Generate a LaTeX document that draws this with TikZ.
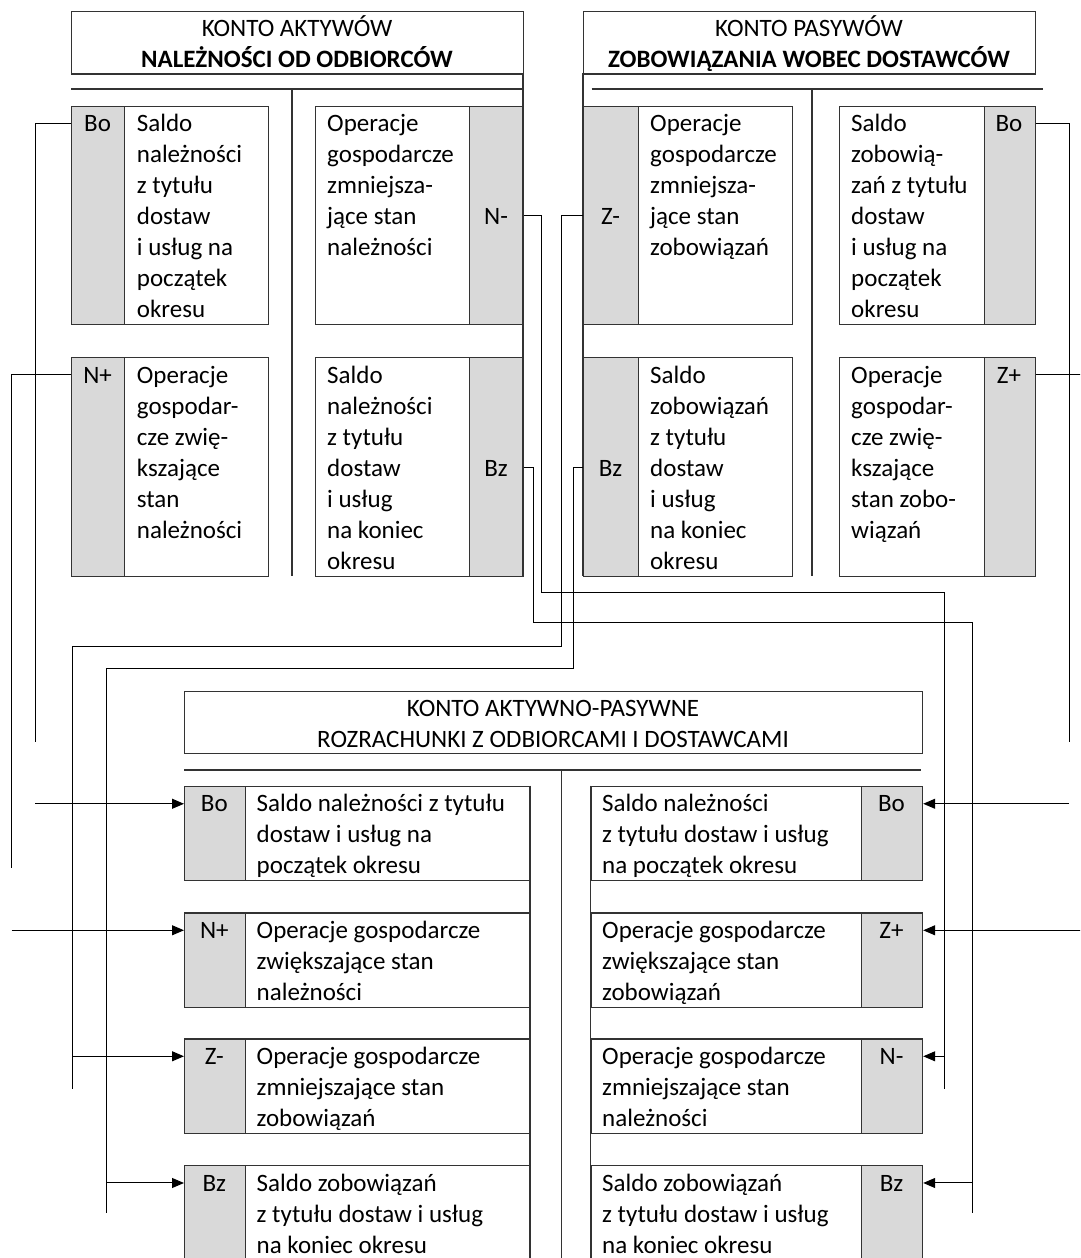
\documentclass[tikz,border=0pt]{standalone}
\usepackage{fontspec}
\setmainfont{Carlito}
\usetikzlibrary{arrows.meta}

\begin{document}
\begin{tikzpicture}[x=1pt,y=-1pt,
  font=\fontsize{25}{31}\selectfont,
  frame/.style={draw=black!80,line width=1.2pt,rectangle,inner sep=0pt,anchor=north west},
  gcol/.style={frame,fill=black!15},
  body/.style={inner sep=0pt,anchor=base west},
  lbl/.style={inner sep=0pt,anchor=base},
  ttl/.style={inner sep=0pt,anchor=base},
  rule/.style={draw=black!80,line width=1.2pt},
  wire/.style={draw=black,line width=1pt},
  arr/.style={wire,-{Triangle[length=12pt,width=10pt]}}]

\useasboundingbox (0,0) rectangle (1080,1258);
\clip (0,0) rectangle (1080,1258);

% ---------- asset account: receivables ----------
\node[frame,minimum width=452pt,minimum height=62.6pt] (ttlA) at (71,10.7) {};
\node[ttl] (ttlAt) at (297,36) {\begin{tabular}[t]{@{}c@{}}KONTO AKTYWÓW\\\textbf{NALEŻNOŚCI OD ODBIORCÓW}\end{tabular}};
\draw[rule] (71,89) -- (523,89);
\draw[rule] (292,89) -- (292,576);

\node[gcol,minimum width=53pt,minimum height=218pt] (A1g) at (71,106) {};
\node[frame,minimum width=197pt,minimum height=218pt] (A1) at (71,106) {};
\node[lbl] (A1l) at (97.6,131) {Bo};
\node[body] (A1t) at (136.7,131) {\begin{tabular}[t]{@{}l@{}}Saldo\\należności\\z tytułu\\dostaw\\i usług na\\początek\\okresu\end{tabular}};

\node[frame,minimum width=208pt,minimum height=218pt] (A2) at (315,106) {};
\node[gcol,minimum width=54pt,minimum height=218pt] (A2g) at (469,106) {};
\node[lbl] (A2l) at (496,224) {N-};
\node[body] (A2t) at (327,131) {\begin{tabular}[t]{@{}l@{}}Operacje\\gospodarcze\\zmniejsza-\\jące stan\\należności\end{tabular}};

\node[gcol,minimum width=53pt,minimum height=219pt] (A3g) at (71,357) {};
\node[frame,minimum width=197pt,minimum height=219pt] (A3) at (71,357) {};
\node[lbl] (A3l) at (97.6,383) {N+};
\node[body] (A3t) at (136.7,383) {\begin{tabular}[t]{@{}l@{}}Operacje\\gospodar-\\cze zwię-\\kszające\\stan\\należności\end{tabular}};

\node[frame,minimum width=208pt,minimum height=219pt] (A4) at (315,357) {};
\node[gcol,minimum width=54pt,minimum height=219pt] (A4g) at (469,357) {};
\node[lbl] (A4l) at (496,476) {Bz};
\node[body] (A4t) at (327,383) {\begin{tabular}[t]{@{}l@{}}Saldo\\należności\\z tytułu\\dostaw\\i usług\\na koniec\\okresu\end{tabular}};

\draw[rule] (523,73.3) -- (523,576);

% ---------- liability account: payables ----------
\node[frame,minimum width=452pt,minimum height=62.6pt] (ttlP) at (583,10.7) {};
\node[ttl] (ttlPt) at (809,36) {\begin{tabular}[t]{@{}c@{}}KONTO PASYWÓW\\\textbf{ZOBOWIĄZANIA WOBEC DOSTAWCÓW}\end{tabular}};
\draw[rule] (591.7,89) -- (1042.8,89);
\draw[rule] (812,89) -- (812,576);

\node[gcol,minimum width=55pt,minimum height=218pt] (P1g) at (583,106) {};
\node[frame,minimum width=209pt,minimum height=218pt] (P1) at (583,106) {};
\node[lbl] (P1l) at (610.5,224) {Z-};
\node[body] (P1t) at (650,131) {\begin{tabular}[t]{@{}l@{}}Operacje\\gospodarcze\\zmniejsza-\\jące stan\\zobowiązań\end{tabular}};

\node[frame,minimum width=196pt,minimum height=218pt] (P2) at (839,106) {};
\node[gcol,minimum width=51.5pt,minimum height=218pt] (P2g) at (983.5,106) {};
\node[lbl] (P2l) at (1009,131) {Bo};
\node[body] (P2t) at (851,131) {\begin{tabular}[t]{@{}l@{}}Saldo\\zobowią-\\zań z tytułu\\dostaw\\i usług na\\początek\\okresu\end{tabular}};

\node[gcol,minimum width=55pt,minimum height=219pt] (P3g) at (583,357) {};
\node[frame,minimum width=209pt,minimum height=219pt] (P3) at (583,357) {};
\node[lbl] (P3l) at (610.5,476) {Bz};
\node[body] (P3t) at (650,383) {\begin{tabular}[t]{@{}l@{}}Saldo\\zobowiązań\\z tytułu\\dostaw\\i usług\\na koniec\\okresu\end{tabular}};

\node[frame,minimum width=196pt,minimum height=219pt] (P4) at (839,357) {};
\node[gcol,minimum width=51.5pt,minimum height=219pt] (P4g) at (983.5,357) {};
\node[lbl] (P4l) at (1009,383) {Z+};
\node[body] (P4t) at (851,383) {\begin{tabular}[t]{@{}l@{}}Operacje\\gospodar-\\cze zwię-\\kszające\\stan zobo-\\wiązań\end{tabular}};

\draw[rule] (583,73.3) -- (583,576);

% ---------- asset-liability account: settlements ----------
\node[frame,minimum width=738pt,minimum height=62.3pt] (ttlR) at (184,690.7) {};
\node[ttl] (ttlRt) at (553,716) {\begin{tabular}[t]{@{}c@{}}KONTO AKTYWNO-PASYWNE\\ROZRACHUNKI Z ODBIORCAMI I DOSTAWCAMI\end{tabular}};
\draw[rule] (184,770) -- (920.5,770);
\draw[rule] (561.3,770) -- (561.3,1270);

% left column
\node[gcol,minimum width=60.5pt,minimum height=94.3pt] (L1g) at (184,785.7) {};
\node[frame,minimum width=346pt,minimum height=94.3pt] (L1) at (184,785.7) {};
\node[lbl] (L1l) at (214.3,811.7) {Bo};
\node[body] (L1t) at (256.5,811.7) {\begin{tabular}[t]{@{}l@{}}Saldo należności z tytułu\\dostaw i usług na\\początek okresu\end{tabular}};

\node[gcol,minimum width=60.5pt,minimum height=94.3pt] (L2g) at (184,912.3) {};
\node[frame,minimum width=346pt,minimum height=94.3pt] (L2) at (184,912.3) {};
\node[lbl] (L2l) at (214.3,938.3) {N+};
\node[body] (L2t) at (256.5,938.3) {\begin{tabular}[t]{@{}l@{}}Operacje gospodarcze\\zwiększające stan\\należności\end{tabular}};

\node[gcol,minimum width=60.5pt,minimum height=94.3pt] (L3g) at (184,1038.3) {};
\node[frame,minimum width=346pt,minimum height=94.3pt] (L3) at (184,1038.3) {};
\node[lbl] (L3l) at (214.3,1064.3) {Z-};
\node[body] (L3t) at (256.5,1064.3) {\begin{tabular}[t]{@{}l@{}}Operacje gospodarcze\\zmniejszające stan\\zobowiązań\end{tabular}};

\node[gcol,minimum width=60.5pt,minimum height=94.3pt] (L4g) at (184,1165) {};
\node[frame,minimum width=346pt,minimum height=94.3pt] (L4) at (184,1165) {};
\node[lbl] (L4l) at (214.3,1191) {Bz};
\node[body] (L4t) at (256.5,1191) {\begin{tabular}[t]{@{}l@{}}Saldo zobowiązań\\z tytułu dostaw i usług\\na koniec okresu\end{tabular}};

\draw[rule] (530,785.7) -- (530,1270);

% right column
\node[frame,minimum width=331.4pt,minimum height=94.3pt] (R1) at (590.6,785.7) {};
\node[gcol,minimum width=61pt,minimum height=94.3pt] (R1g) at (861,785.7) {};
\node[lbl] (R1l) at (891.5,811.7) {Bo};
\node[body] (R1t) at (602,811.7) {\begin{tabular}[t]{@{}l@{}}Saldo należności\\z tytułu dostaw i usług\\na początek okresu\end{tabular}};

\node[frame,minimum width=331.4pt,minimum height=94.3pt] (R2) at (590.6,912.3) {};
\node[gcol,minimum width=61pt,minimum height=94.3pt] (R2g) at (861,912.3) {};
\node[lbl] (R2l) at (891.5,938.3) {Z+};
\node[body] (R2t) at (602,938.3) {\begin{tabular}[t]{@{}l@{}}Operacje gospodarcze\\zwiększające stan\\zobowiązań\end{tabular}};

\node[frame,minimum width=331.4pt,minimum height=94.3pt] (R3) at (590.6,1038.3) {};
\node[gcol,minimum width=61pt,minimum height=94.3pt] (R3g) at (861,1038.3) {};
\node[lbl] (R3l) at (891.5,1064.3) {N-};
\node[body] (R3t) at (602,1064.3) {\begin{tabular}[t]{@{}l@{}}Operacje gospodarcze\\zmniejszające stan\\należności\end{tabular}};

\node[frame,minimum width=331.4pt,minimum height=94.3pt] (R4) at (590.6,1165) {};
\node[gcol,minimum width=61pt,minimum height=94.3pt] (R4g) at (861,1165) {};
\node[lbl] (R4l) at (891.5,1191) {Bz};
\node[body] (R4t) at (602,1191) {\begin{tabular}[t]{@{}l@{}}Saldo zobowiązań\\z tytułu dostaw i usług\\na koniec okresu\end{tabular}};

\draw[rule] (590.6,785.7) -- (590.6,1270);

% ---------- postings ----------
\coordinate (c1) at (35,742);
\coordinate (c2) at (11.5,868);
\coordinate (n1) at (541.5,592);
\coordinate (n2) at (944,1089);
\coordinate (b1) at (533,622.5);
\coordinate (b2) at (972,1213);
\coordinate (z1) at (561,646);
\coordinate (z2) at (72.3,1089);
\coordinate (d1) at (573.3,668);
\coordinate (d2) at (106,1213);
\coordinate (c7) at (1069,742);
\coordinate (c8) at (1092,868);

% opening balance of receivables
\draw[wire] (A1.west |- A1l) -| (c1);
\draw[arr] (c1 |- L1l) -- (L1.west |- L1l);
% increase of receivables
\draw[wire] (A3.west |- A3l) -| (c2);
\draw[arr] (c2 |- L2l) -- (L2.west |- L2l);
% decrease of receivables
\draw[wire] (A2.east |- A2l) -| (n1) -| (n2);
\draw[arr] (n2 |- R3l) -- (R3.east |- R3l);
% closing balance of receivables
\draw[wire] (A4.east |- A4l) -| (b1) -| (b2);
\draw[arr] (b2 |- R4l) -- (R4.east |- R4l);
% decrease of payables
\draw[wire] (P1.west |- P1l) -| (z1) -| (z2);
\draw[arr] (z2 |- L3l) -- (L3.west |- L3l);
% closing balance of payables
\draw[wire] (P3.west |- P3l) -| (d1) -| (d2);
\draw[arr] (d2 |- L4l) -- (L4.west |- L4l);
% opening balance of payables
\draw[wire] (P2.east |- P2l) -| (c7);
\draw[arr] (c7 |- R1l) -- (R1.east |- R1l);
% increase of payables
\draw[wire] (P4.east |- P4l) -| (c8);
\draw[arr] (c8 |- R2l) -- (R2.east |- R2l);

\end{tikzpicture}
\end{document}
